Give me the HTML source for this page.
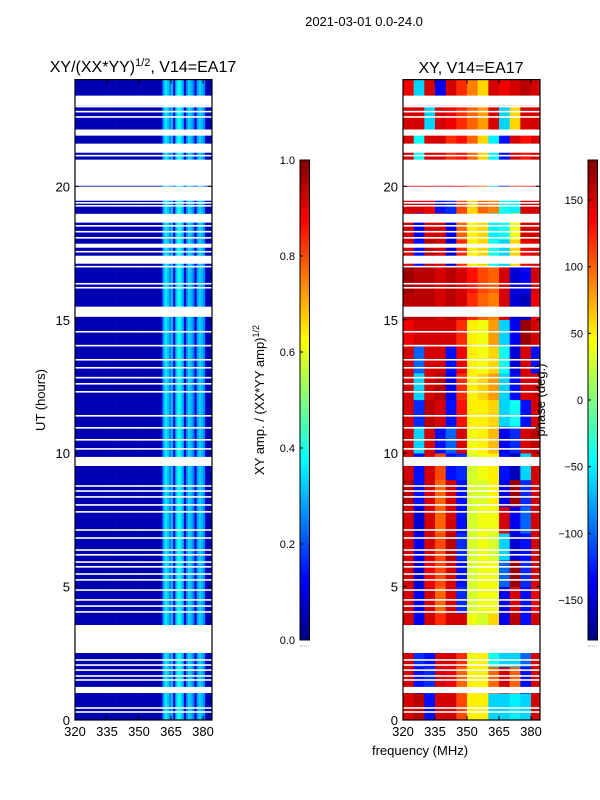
<!DOCTYPE html>
<html><head><meta charset="utf-8"><style>
html,body{margin:0;padding:0;background:#fff;}
svg{display:block;font-family:"Liberation Sans","DejaVu Sans",sans-serif;}
</style></head><body>
<svg id="fig" width="600" height="800" viewBox="0 0 600 800">
<rect x="0" y="0" width="600" height="800" fill="#fff"/>
<text x="364" y="26" font-size="13" text-anchor="middle">2021-03-01 0.0-24.0</text>
<text x="143" y="72" font-size="16" text-anchor="middle">XY/(XX*YY)<tspan font-size="11" dy="-6">1/2</tspan><tspan dy="6">, V14=EA17</tspan></text>
<text x="471" y="73" font-size="16" text-anchor="middle">XY, V14=EA17</text>
<text transform="translate(45,400) rotate(-90)" font-size="13" text-anchor="middle">UT (hours)</text>
<text x="420" y="755" font-size="13" text-anchor="middle">frequency (MHz)</text>
<text transform="translate(264,400) rotate(-90)" font-size="13" text-anchor="middle">XY amp. / (XX*YY amp)<tspan font-size="9" dy="-5">1/2</tspan></text>
<g id="left"></g>
<g id="right"></g>
<text transform="translate(545,400) rotate(-90)" font-size="13" text-anchor="middle">phase (deg.)</text>
<g id="axes"></g>
<g id="cbars"></g>
</svg>
<script>
// ---- data ----
const fMin = 320, fMax = 384.2, tMin = 0, tMax = 24;
const xTicks = [320, 335, 350, 365, 380];
const yTicks = [0, 5, 10, 15, 20];
// amplitude per 1 MHz channel starting at 320
const ampChan = [0.05,0.05,0.05,0.05,0.05,0.05,0.05,0.05,0.05,0.05,
 0.05,0.05,0.05,0.05,0.05,0.05,0.05,0.05,0.05,0.05,
 0.05,0.05,0.05,0.05,0.05,0.05,0.05,0.05,0.05,0.05,
 0.05,0.05,0.05,0.05,0.05,0.05,0.05,0.05,0.05,0.05,
 0.07,0.28,0.36,0.32,0.26,0.30,0.08,0.32,0.40,0.36,
 0.30,0.08,0.26,0.34,0.30,0.25,0.08,0.28,0.33,0.30,
 0.26,0.06,0.05,0.05,0.05];
// phase grid: rows = hours 0..23, cols = 5 MHz bins from 320
const phaseBins = [320,325,330,335,340,345,350,355,360,365,370,375,380];
const phaseRows = [
 [150,160,-130,150,150,110,50,50,-60,-60,-50,-60,150],
 [150,-130,-120,150,140,100,50,50,100,150,100,-130,150],
 [150,-120,-130,150,150,120,40,50,-40,-60,-60,-100,150],
 [150,-140,150,120,150,150,40,30,60,-140,160,-130,150],
 [150,-140,150,100,150,-120,30,40,40,-140,150,-130,140],
 [150,-150,140,110,150,-130,30,40,40,-100,170,-120,150],
 [150,-140,150,110,160,-120,30,40,30,-60,-150,-130,150],
 [150,-150,150,100,150,-130,30,40,40,150,-140,-100,150],
 [160,-130,150,100,150,-130,30,30,50,-140,170,-120,150],
 [150,-130,150,110,-130,-120,30,40,50,-130,-160,-60,150],
 [150,-60,150,-130,-100,150,40,50,70,-140,-120,150,160],
 [150,-120,160,150,-130,130,50,50,60,-60,-40,-130,150],
 [150,-60,150,160,-140,120,50,60,80,-60,-130,150,150],
 [150,-100,150,150,-130,140,50,40,60,-40,-150,150,-130],
 [140,150,150,150,150,120,50,40,80,-60,-140,170,150],
 [160,160,160,150,160,150,120,100,90,150,-150,-160,140],
 [170,160,160,150,160,150,130,110,100,150,-150,-140,150],
 [150,-130,160,150,-150,120,50,60,-40,-60,60,140,150],
 [150,-140,150,150,-140,100,50,60,-50,-40,40,150,150],
 [150,150,140,-130,-120,110,60,100,90,-40,-50,150,150],
 [150,150,140,150,140,140,120,100,-60,-140,120,120,150],
 [150,-40,150,150,120,130,100,60,-50,-130,150,130,150],
 [150,150,-60,150,140,120,100,80,150,-60,60,150,150],
 [140,-60,150,-140,150,120,90,60,150,140,150,160,150]];
// flagged time ranges (hours)
const gapStart = [23.02,21.9,21.26,20.02,19.46,18.64,17.7,17.1,15.11,9.52,2.51,1.01];
const gapEnd   = [23.4,22.12,21.6,21.0,19.99,18.97,17.85,17.4,15.49,9.86,3.56,1.24];
const thinGaps = [23.3,22.99,22.8,22.6,22.1,21.98,21.15,19.38,19.27,18.52,18.3,18.07,17.55,16.99,16.35,16.2,14.55,14.03,13.5,13.2,12.83,12.6,12.3,11.4,10.95,10.5,10.16,8.77,8.58,8.36,8.06,7.8,7.12,6.82,6.37,6.19,5.92,5.74,5.47,5.25,4.87,4.5,4.27,4.05,2.25,2.06,1.87,1.65,1.5,0.45,0.3];
const ampTicks = [0.0,0.2,0.4,0.6,0.8,1.0];
const phaseTicks = [-150,-100,-50,0,50,100,150];

// ---- helpers ----
const NS = "http://www.w3.org/2000/svg";
function jet(v){ v=Math.max(0,Math.min(1,v));
  const r=Math.max(0,Math.min(1,1.5-Math.abs(4*v-3)));
  const g=Math.max(0,Math.min(1,1.5-Math.abs(4*v-2)));
  const b=Math.max(0,Math.min(1,1.5-Math.abs(4*v-1)));
  return `rgb(${Math.round(r*255)},${Math.round(g*255)},${Math.round(b*255)})`; }
function mk(tag, attrs, parent){ const e=document.createElementNS(NS,tag); for(const k in attrs) e.setAttribute(k,attrs[k]); parent.appendChild(e); return e; }
const panels = [{x0:75,x1:212,g:document.getElementById('left')},{x0:403,x1:540,g:document.getElementById('right')}];
const yTop = 79.6, yBot = 720;
function yScale(h){ return yBot - (h - tMin)/(tMax - tMin)*(yBot - yTop); }
function xScale(p,f){ return p.x0 + (f - fMin)/(fMax - fMin)*(p.x1 - p.x0); }

// left amplitude cells
{ const p=panels[0];
  for(let i=0;i<ampChan.length;i++){
    const f0=fMin+i, f1=Math.min(fMin+i+1,fMax);
    if(f0>=fMax) break;
    const r=mk('rect',{x:xScale(p,f0),y:yTop,width:xScale(p,f1)-xScale(p,f0)+0.3,height:yBot-yTop,fill:jet(ampChan[i])},p.g);
    
    
  }
}
// right phase cells
{ const p=panels[1];
  for(let h=0;h<phaseRows.length;h++){
    for(let c=0;c<phaseBins.length;c++){
      const f0=phaseBins[c], f1=c+1<phaseBins.length?phaseBins[c+1]:fMax;
      const r=mk('rect',{x:xScale(p,f0),y:yScale(h+1),width:xScale(p,f1)-xScale(p,f0)+0.3,height:yScale(h)-yScale(h+1)+0.3,fill:jet((phaseRows[h][c]+180)/360)},p.g);
      
      
    }
  }
}
// gaps
for(const p of panels){
  for(let i=0;i<gapStart.length;i++){
    const r=mk('rect',{x:p.x0,y:yScale(gapEnd[i]),width:p.x1-p.x0,height:yScale(gapStart[i])-yScale(gapEnd[i]),fill:'#fff'},p.g);
    
    
  }
  for(let i=0;i<thinGaps.length;i++){
    const r=mk('rect',{x:p.x0,y:yScale(thinGaps[i])-0.8,width:p.x1-p.x0,height:1.6,fill:'#fff'},p.g);
    
    
  }
}
// axes
const ax=document.getElementById('axes');
for(const p of panels){
  const fr=mk('rect',{x:p.x0,y:yTop,width:p.x1-p.x0,height:yBot-yTop,fill:'none',stroke:'#000','stroke-width':1.2},ax);
  
  
  for(const t of xTicks){
    const x=xScale(p,t);
    mk('line',{x1:x,x2:x,y1:yBot,y2:yBot-4,stroke:'#000'},ax);
    mk('line',{x1:x,x2:x,y1:yTop,y2:yTop+4,stroke:'#000'},ax);
    const tx=mk('text',{x:x,y:yBot+16,'font-size':13,'text-anchor':'middle'},ax); tx.textContent=t;
    
    
  }
  for(const t of yTicks){
    const y=yScale(t);
    mk('line',{x1:p.x0,x2:p.x0+4,y1:y,y2:y,stroke:'#000'},ax);
    mk('line',{x1:p.x1,x2:p.x1-4,y1:y,y2:y,stroke:'#000'},ax);
    const tx=mk('text',{x:p.x0-5,y:y+5,'font-size':13,'text-anchor':'end'},ax); tx.textContent=t;
    
    
  }
}
// colorbars
const cb=document.getElementById('cbars');
const cbTop=160, cbBot=640;
const bars=[{x:300,w:9.5,ticks:ampTicks,min:0,max:1,fmt:v=>v.toFixed(1)},{x:588,w:9.5,ticks:phaseTicks,min:-180,max:180,fmt:v=>v<0?'\u2212'+(-v):String(v)}];
for(const b of bars){
  const n=120;
  for(let i=0;i<n;i++){
    const y=cbBot-(i+1)/n*(cbBot-cbTop);
    mk('rect',{x:b.x,y:y,width:b.w,height:(cbBot-cbTop)/n+0.5,fill:jet((i+0.5)/n)},cb);
  }
  const fr=mk('rect',{x:b.x,y:cbTop,width:b.w,height:cbBot-cbTop,fill:'none',stroke:'#000','stroke-width':1},cb);
  
  
  for(const t of b.ticks){
    const y=cbBot-(t-b.min)/(b.max-b.min)*(cbBot-cbTop);
    mk('line',{x1:b.x,x2:b.x+3,y1:y,y2:y,stroke:'#000'},cb);
    const tx=mk('text',{x:b.x-5,y:y+4,'font-size':11,'text-anchor':'end'},cb); tx.textContent=b.fmt(t);
    
    
  }
  mk('line',{x1:b.x,x2:b.x+b.w,y1:cbBot+6,y2:cbBot+6,stroke:'#999','stroke-dasharray':'1,1'},cb);
}
</script>
</body></html>
